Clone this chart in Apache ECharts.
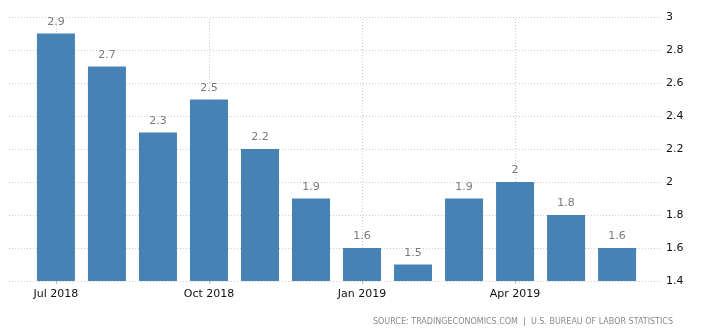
<!DOCTYPE html>
<html>
<head>
<meta charset="utf-8">
<script src="https://cdn.jsdelivr.net/npm/echarts@6/dist/echarts.min.js"></script>
<style>
  html, body { margin: 0; padding: 0; background: #fff; }
  #chart { width: 715px; height: 336px; }
</style>
</head>
<body>
<div id="chart"></div>
<script>
// Monthly rate, Jul 2018 – Jun 2019
const months = ['Jul 2018', 'Aug 2018', 'Sep 2018', 'Oct 2018', 'Nov 2018', 'Dec 2018',
                'Jan 2019', 'Feb 2019', 'Mar 2019', 'Apr 2019', 'May 2019', 'Jun 2019'];
const values = [2.9, 2.7, 2.3, 2.5, 2.2, 1.9, 1.6, 1.5, 1.9, 2, 1.8, 1.6];
const labelledMonths = [0, 3, 6, 9];
const yTicks = [1.4, 1.6, 1.8, 2, 2.2, 2.4, 2.6, 2.8, 3];

const font = 'DejaVu Sans';
const chart = echarts.init(document.getElementById('chart'));

chart.setOption({
  animation: false,
  grid: { left: 9, right: 52, top: 17, bottom: 55, containLabel: false },
  xAxis: {
    type: 'value',
    min: -0.92,
    max: 11.9,
    axisLine: { show: false },
    splitLine: { show: false },
    axisTick: {
      show: true, length: 3, customValues: labelledMonths,
      lineStyle: { color: '#bbb' }
    },
    axisLabel: {
      customValues: labelledMonths,
      formatter: v => months[Math.round(v)],
      color: '#111', fontFamily: font, fontSize: 11, margin: 8
    }
  },
  yAxis: {
    type: 'value',
    position: 'right',
    min: 1.4,
    max: 3,
    interval: 0.2,
    axisLine: { show: false },
    axisTick: { show: false },
    axisLabel: {
      formatter: v => String(+v.toFixed(1)),
      color: '#111', fontFamily: font, fontSize: 11, margin: 3
    },
    splitLine: { lineStyle: { color: '#cccccc', type: [1, 2], width: 1 } }
  },
  series: [{
    type: 'bar',
    data: values.map((v, i) => [i, v]),
    barWidth: 38,
    itemStyle: { color: '#4682b4' },
    label: {
      show: true, position: 'top', distance: 6,
      color: '#7a7a7a', fontFamily: font, fontSize: 11,
      formatter: p => String(p.value[1])
    },
    markLine: {
      silent: true, symbol: 'none', z: 1,
      label: { show: false },
      lineStyle: { color: '#cccccc', type: [1, 2], width: 1 },
      data: labelledMonths.map(m => ({ xAxis: m }))
    }
  }],
  graphic: [{
    type: 'text',
    right: 42,
    top: 318,
    style: {
      text: 'SOURCE: TRADINGECONOMICS.COM  |  U.S. BUREAU OF LABOR STATISTICS',
      fill: '#8a8a8a', font: '8px "DejaVu Sans"'
    }
  }]
});
</script>
</body>
</html>
